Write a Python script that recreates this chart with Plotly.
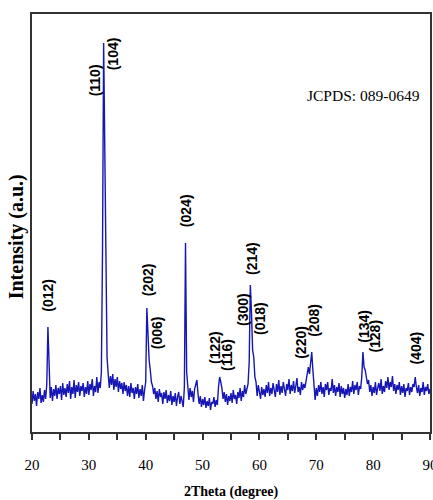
import plotly.graph_objects as go

# 2theta grid: 20.0 .. 90.0 in 0.2 degree steps (5 readings per degree)
two_theta_start = 20.0
two_theta_step = 0.2

# Intensity, one row per degree (20.0, 20.2, 20.4, 20.6, 20.8 ...)
intensity_rows = [
    [28, 41, 31, 38, 26],      # 20
    [40, 33, 44, 29, 37],      # 21
    [30, 42, 33, 48, 105],     # 22
    [52, 34, 45, 31, 43],      # 23
    [36, 47, 33, 44, 38],      # 24
    [46, 32, 49, 37, 44],      # 25
    [35, 48, 39, 51, 33],      # 26
    [45, 38, 52, 34, 47],      # 27
    [40, 50, 36, 46, 41],      # 28
    [49, 35, 45, 38, 51],      # 29
    [37, 48, 42, 53, 36],      # 30
    [46, 40, 55, 39, 50],      # 31
    [44, 60, 180, 389, 260],   # 32
    [150, 75, 58, 44, 56],     # 33
    [47, 58, 42, 53, 45],      # 34
    [55, 40, 51, 43, 49],      # 35
    [38, 50, 41, 47, 36],      # 36
    [46, 35, 49, 39, 44],      # 37
    [33, 45, 38, 48, 34],      # 38
    [43, 36, 47, 31, 42],      # 39
    [50, 124, 95, 72, 62],     # 40
    [50, 46, 38, 44, 33],      # 41
    [41, 30, 43, 35, 39],      # 42
    [28, 40, 33, 42, 29],      # 43
    [37, 31, 41, 27, 36],      # 44
    [30, 39, 26, 35, 40],      # 45
    [28, 36, 31, 25, 45],      # 46
    [189, 60, 40, 32, 44],     # 47
    [35, 41, 30, 43, 48],      # 48
    [52, 38, 28, 36, 25],      # 49
    [33, 27, 35, 24, 31],      # 50
    [26, 34, 22, 30, 28],      # 51
    [35, 25, 32, 27, 45],      # 52
    [55, 50, 44, 33, 40],      # 53
    [30, 38, 27, 36, 31],      # 54
    [39, 29, 42, 33, 37],      # 55
    [28, 40, 34, 44, 31],      # 56
    [41, 35, 47, 38, 44],      # 57
    [48, 70, 147, 120, 82],    # 58
    [75, 55, 50, 36, 47],      # 59
    [40, 33, 45, 37, 43],      # 60
    [35, 47, 39, 50, 36],      # 61
    [44, 38, 49, 41, 35],      # 62
    [48, 40, 52, 37, 46],      # 63
    [39, 50, 43, 36, 48],      # 64
    [42, 53, 38, 47, 41],      # 65
    [51, 39, 46, 54, 40],      # 66
    [45, 37, 50, 42, 48],      # 67
    [44, 52, 55, 65, 58],      # 68
    [70, 80, 62, 50, 32],      # 69
    [44, 36, 47, 40, 50],      # 70
    [38, 45, 35, 48, 42],      # 71
    [50, 37, 44, 41, 53],      # 72
    [39, 47, 36, 45, 40],      # 73
    [49, 35, 46, 38, 44],      # 74
    [34, 43, 37, 48, 36],      # 75
    [45, 40, 51, 38, 47],      # 76
    [42, 50, 37, 46, 43],      # 77
    [55, 80, 65, 62, 55],      # 78
    [48, 52, 40, 47, 36],      # 79
    [45, 39, 50, 37, 44],      # 80
    [49, 41, 53, 38, 46],      # 81
    [40, 51, 44, 55, 42],      # 82
    [50, 45, 56, 41, 48],      # 83
    [38, 47, 42, 50, 37],      # 84
    [46, 39, 48, 35, 44],      # 85
    [41, 49, 37, 45, 40],      # 86
    [48, 45, 55, 45, 39],      # 87
    [47, 36, 44, 40, 50],      # 88
    [37, 45, 41, 48, 38],      # 89
    [43],                      # 90
]

# Miller-index labels and where they sit (2theta, intensity)
hkl_labels = ["(012)", "(110)", "(104)", "(202)", "(006)", "(024)", "(122)", "(116)",
              "(300)", "(214)", "(018)", "(220)", "(208)", "(134)", "(128)", "(404)"]
label_theta = [22.77, 31.14, 34.30, 40.44, 42.02, 47.11, 52.19, 54.30,
               57.11, 58.68, 60.09, 67.28, 69.56, 78.33, 80.26, 87.46]
label_int = [137, 352, 378, 152, 99, 221, 84, 77,
             122, 174, 114, 90, 112, 106, 96, 84]

x_ticks = [20, 30, 40, 50, 60, 70, 80, 90]
card_text = "JCPDS: 089-0649"
x_title = "2Theta (degree)"
y_title = "Intensity (a.u.)"

intensity = [v for row in intensity_rows for v in row]
two_theta = [round(two_theta_start + i * two_theta_step, 2) for i in range(len(intensity))]

fig = go.Figure()
fig.add_trace(go.Scatter(
    x=two_theta, y=intensity, mode="lines",
    line=dict(color="rgb(22,22,180)", width=1.4),
    showlegend=False, hoverinfo="skip",
))

for t, x, y in zip(hkl_labels, label_theta, label_int):
    fig.add_annotation(x=x, y=y, text="<b>" + t + "</b>", textangle=-90,
                       showarrow=False, xanchor="center", yanchor="middle",
                       font=dict(family="Liberation Sans", size=14, color="black"))

fig.add_annotation(xref="paper", yref="paper", x=0.834, y=0.806, text=card_text,
                   showarrow=False, xanchor="center", yanchor="middle",
                   font=dict(family="Liberation Serif", size=15.5, color="black"))

# y-axis title placed like the original (slightly below the axis centre)
fig.add_annotation(xref="paper", yref="paper", x=-0.040, y=0.466,
                   text="<b>" + y_title + "</b>", textangle=-90,
                   showarrow=False, xanchor="center", yanchor="middle",
                   font=dict(family="Liberation Serif", size=20, color="black"))

fig.update_layout(
    width=433, height=500,
    margin=dict(l=32, r=3, t=14, b=68),
    paper_bgcolor="white", plot_bgcolor="white",
    xaxis=dict(
        range=[20, 90], tickvals=x_ticks, ticktext=[str(v) for v in x_ticks],
        ticks="outside", ticklen=6, tickwidth=1.5, tickcolor="#333",
        minor=dict(dtick=5, ticks="outside", ticklen=6, tickwidth=1.5, tickcolor="#333"),
        showline=True, linecolor="#333", linewidth=2, mirror=True,
        showgrid=False, zeroline=False,
        ticklabelstandoff=12, ticklabeloverflow="allow",
        tickfont=dict(family="Liberation Serif", size=15, color="black"),
        title=dict(text="<b>" + x_title + "</b>", standoff=14,
                   font=dict(family="Liberation Serif", size=14, color="black")),
        automargin=False,
    ),
    yaxis=dict(
        range=[0, 418], showticklabels=False, ticks="",
        showline=True, linecolor="#333", linewidth=2, mirror=True,
        showgrid=False, zeroline=False,
        automargin=False,
    ),
)

fig.write_html("out.html", config={"displayModeBar": False},
               post_script="document.body.style.margin='0';")
